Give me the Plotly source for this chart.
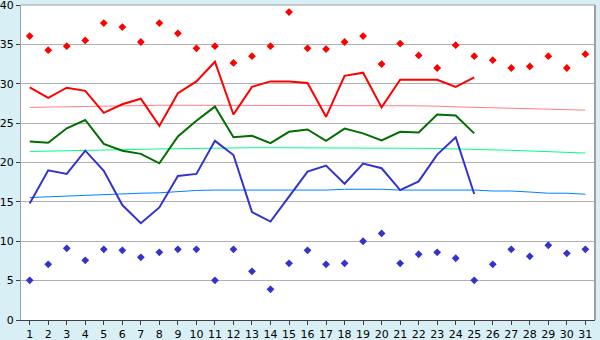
import plotly.graph_objects as go

days = list(range(1, 32))

max_temp = [36.05, 34.26, 34.77, 35.5, 37.7, 37.2, 35.3, 37.7, 36.4, 34.5,
            34.77, 32.65, 33.5, 34.77, 39.1, 34.5, 34.4, 35.3, 36.05, 32.5,
            35.1, 33.6, 32.0, 34.9, 33.5, 33.0, 32.0, 32.2, 33.5, 32.0, 33.76]

min_temp = [5.04, 7.07, 9.1, 7.58, 8.98, 8.85, 7.96, 8.6, 8.98, 8.98,
            5.04, 8.98, 6.18, 3.9, 7.2, 8.85, 7.07, 7.2, 10.0, 11.0,
            7.2, 8.35, 8.6, 7.84, 5.04, 7.07, 8.98, 8.09, 9.49, 8.47, 8.98]

avg_max = [29.55, 28.2, 29.5, 29.1, 26.3, 27.4, 28.1, 24.65, 28.8, 30.3,
           32.8, 26.1, 29.6, 30.3, 30.3, 30.1, 25.8, 31.0, 31.4, 27.0,
           30.5, 30.5, 30.5, 29.6, 30.8]

avg_mean = [22.66, 22.5, 24.35, 25.4, 22.36, 21.5, 21.1, 19.9, 23.3, 25.3,
            27.1, 23.2, 23.4, 22.45, 23.9, 24.2, 22.75, 24.3, 23.7, 22.8,
            23.9, 23.8, 26.1, 25.96, 23.7]

avg_min = [14.8, 19.0, 18.55, 21.5, 18.95, 14.6, 12.3, 14.3, 18.3, 18.55,
           22.75, 20.95, 13.7, 12.5, 15.67, 18.85, 19.6, 17.3, 19.86, 19.27,
           16.5, 17.6, 21.0, 23.2, 16.0]

normal_max = [27.0, 27.05, 27.1, 27.15, 27.18, 27.2, 27.25, 27.27, 27.27, 27.27,
              27.27, 27.27, 27.27, 27.27, 27.27, 27.27, 27.27, 27.27, 27.27, 27.27,
              27.25, 27.2, 27.15, 27.05, 27.0, 26.95, 26.9, 26.85, 26.8, 26.72, 26.65]

normal_mean = [21.4, 21.45, 21.5, 21.6, 21.62, 21.65, 21.7, 21.72, 21.75, 21.8,
               21.85, 21.88, 21.88, 21.88, 21.88, 21.88, 21.88, 21.88, 21.88, 21.86,
               21.82, 21.8, 21.78, 21.75, 21.7, 21.6, 21.55, 21.48, 21.4, 21.3, 21.2]

normal_min = [15.55, 15.65, 15.75, 15.85, 15.9, 16.0, 16.1, 16.15, 16.3, 16.45,
              16.5, 16.5, 16.5, 16.5, 16.5, 16.5, 16.5, 16.6, 16.6, 16.6,
              16.5, 16.5, 16.5, 16.5, 16.5, 16.38, 16.38, 16.25, 16.1, 16.1, 15.97]

y_ticks = [0, 5, 10, 15, 20, 25, 30, 35, 40]

fig = go.Figure()

def line(y, color, width):
    fig.add_trace(go.Scatter(x=days[:len(y)], y=y, mode="lines",
                             line=dict(color=color, width=width, shape="linear"),
                             hoverinfo="skip", showlegend=False))

line(normal_max, "#ff8080", 1)
line(normal_mean, "#00ff80", 1)
line(normal_min, "#0080ff", 1)
line(avg_max, "#ff0000", 2)
line(avg_mean, "#006e00", 2)
line(avg_min, "#3333cc", 2)

fig.add_trace(go.Scatter(x=days, y=max_temp, mode="markers",
                         marker=dict(symbol="diamond", size=6, color="#ff0000"),
                         showlegend=False))
fig.add_trace(go.Scatter(x=days, y=min_temp, mode="markers",
                         marker=dict(symbol="diamond", size=6, color="#3333cc"),
                         showlegend=False))

fig.update_layout(
    width=600, height=340,
    margin=dict(l=21, r=5, t=5, b=20, autoexpand=False),
    paper_bgcolor="#d9eff6",
    plot_bgcolor="#ffffff",
    font=dict(family="DejaVu Sans", size=11, color="#000000"),
    showlegend=False,
)

fig.update_xaxes(
    range=[0.53, 31.52], tickmode="array", tickvals=days,
    ticktext=[str(d) for d in days],
    showgrid=False, zeroline=False, automargin=False,
    showline=True, linecolor="#404040", linewidth=1,
    ticks="outside", ticklen=4, tickcolor="#404040",
    ticklabeloverflow="allow", mirror=False,
)
fig.update_yaxes(
    range=[0, 40], tickmode="array", tickvals=y_ticks,
    ticktext=[str(v) for v in y_ticks],
    showgrid=True, gridcolor="#b0b0b0", gridwidth=1,
    zeroline=False, automargin=False,
    showline=True, linecolor="#a0a0a0", linewidth=1,
    ticks="outside", ticklen=4, tickcolor="#404040",
    ticklabeloverflow="allow",
)

# right and top border of plot area
fig.add_shape(type="line", xref="paper", yref="paper", x0=1, x1=1, y0=0, y1=1,
              line=dict(color="#a0a0a0", width=2))
fig.add_shape(type="line", xref="paper", yref="paper", x0=0, x1=1, y0=1, y1=1,
              line=dict(color="#a0a0a0", width=1))

fig.write_html("out.html",
               config={"displayModeBar": False, "staticPlot": True},
               post_script="document.body.style.margin='0';document.body.style.overflow='hidden';")
